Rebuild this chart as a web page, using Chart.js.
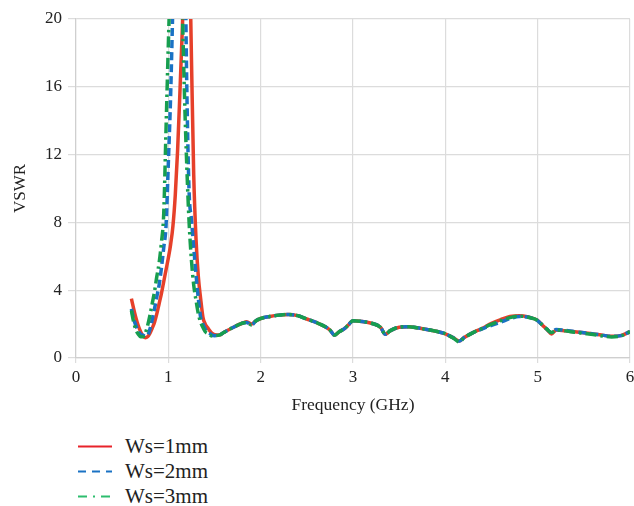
<!DOCTYPE html>
<html>
<head>
<meta charset="utf-8">
<script src="https://cdn.jsdelivr.net/npm/chart.js@4/dist/chart.umd.min.js"></script>
<style>
  html, body { margin: 0; padding: 0; background: #fff; }
  #wrap { position: relative; width: 634px; height: 506px; overflow: hidden; }
  #c { position: absolute; left: 0; top: 0; }
  #legend { position: absolute; left: 76px; top: 434px; font-family: "Liberation Serif", "Times New Roman", serif; font-size: 21px; color: #222; }
  .row { height: 25px; display: flex; align-items: center; }
  .row svg { margin-right: 13px; }
</style>
</head>
<body>
<div id="wrap">
  <canvas id="c" width="634" height="420"></canvas>
  <div id="legend"></div>
</div>
<script>
// ---- data ----
const frequency = [
  0.6, 0.625, 0.65, 0.675, 0.7, 0.725, 0.75, 0.775, 0.8, 0.825, 0.85, 0.875, 0.9, 0.925, 0.95, 0.975,
  1.0, 1.025, 1.05, 1.075, 1.1, 1.125, 1.15, 1.175, 1.2, 1.225, 1.25, 1.275, 1.3, 1.325, 1.35, 1.375,
  1.4, 1.425, 1.45, 1.475, 1.5,
  1.55, 1.6, 1.7, 1.8, 1.85, 1.9, 1.95, 2.0, 2.1, 2.2, 2.3, 2.4, 2.5, 2.6, 2.7, 2.75, 2.8, 2.85, 2.9, 2.95,
  3.0, 3.1, 3.2, 3.3, 3.35, 3.4, 3.5, 3.6, 3.7, 3.8, 3.9, 4.0, 4.1, 4.15, 4.2, 4.3, 4.4, 4.5, 4.6, 4.7,
  4.8, 4.9, 5.0, 5.05, 5.1, 5.15, 5.2, 5.3, 5.4, 5.5, 5.6, 5.7, 5.8, 5.9, 6.0
];
const vswrWs1 = [
  3.5, 2.9, 2.35, 1.9, 1.55, 1.3, 1.2, 1.25, 1.45, 1.75, 2.1, 2.6, 3.2, 3.8, 4.5, 5.2,
  5.9, 6.7, 7.8, 9.6, 12.2, 15.6, 19.2, 23, 27, 25, 17.8, 10.8, 7.0, 4.8, 3.5, 2.4,
  2.0, 1.8, 1.6, 1.45, 1.38,
  1.35, 1.5, 1.8, 2.05, 2.14, 2.0, 2.2, 2.33, 2.45, 2.53, 2.57, 2.5, 2.3, 2.1, 1.85, 1.65, 1.35, 1.55, 1.7, 1.95,
  2.2, 2.15, 2.05, 1.8, 1.4, 1.6, 1.82, 1.85, 1.78, 1.68, 1.58, 1.43, 1.15, 1.0, 1.2, 1.5, 1.75, 2.05, 2.27, 2.45,
  2.5, 2.42, 2.22, 1.95, 1.68, 1.42, 1.65, 1.6, 1.55, 1.49, 1.42, 1.35, 1.28, 1.32, 1.55
];
const vswrWs2 = [
  2.9, 2.3, 1.9, 1.6, 1.4, 1.35, 1.3, 1.32, 1.7, 2.25, 2.9, 3.6, 4.3, 5.3, 6.5, 7.8,
  11.5, 15.5, 21, 26, 30, 31, 30, 26, 16, 9.8, 8.2, 6.5, 4.9, 3.5, 2.4, 2.0,
  1.7, 1.55, 1.45, 1.35, 1.32,
  1.35, 1.5, 1.8, 2.05, 2.1, 1.95, 2.2, 2.33, 2.45, 2.53, 2.57, 2.5, 2.3, 2.1, 1.85, 1.65, 1.35, 1.55, 1.7, 1.95,
  2.2, 2.15, 2.05, 1.8, 1.4, 1.6, 1.82, 1.85, 1.78, 1.68, 1.58, 1.43, 1.15, 1.0, 1.2, 1.5, 1.72, 1.93, 2.12, 2.32,
  2.45, 2.4, 2.2, 1.95, 1.7, 1.5, 1.68, 1.63, 1.55, 1.49, 1.42, 1.35, 1.28, 1.32, 1.55
];
const vswrWs3 = [
  2.8, 2.1, 1.65, 1.4, 1.25, 1.25, 1.45, 1.9, 2.5, 3.2, 3.9, 4.8, 5.6, 6.8, 8.5, 13.5,
  18.5, 23, 28, 31, 31, 27, 21, 15.5, 11.3, 8.0, 5.8, 4.3, 3.4, 2.6, 2.1, 1.8,
  1.55, 1.45, 1.35, 1.3, 1.32,
  1.35, 1.5, 1.8, 2.05, 2.1, 1.95, 2.2, 2.33, 2.45, 2.53, 2.57, 2.5, 2.3, 2.1, 1.85, 1.65, 1.35, 1.55, 1.7, 1.95,
  2.2, 2.15, 2.05, 1.8, 1.4, 1.6, 1.82, 1.85, 1.78, 1.68, 1.58, 1.43, 1.12, 0.95, 1.18, 1.5, 1.75, 2.0, 2.2, 2.38,
  2.47, 2.4, 2.22, 1.95, 1.7, 1.5, 1.65, 1.6, 1.52, 1.45, 1.38, 1.3, 1.24, 1.3, 1.55
];
const seriesLabels = ["Ws=1mm", "Ws=2mm", "Ws=3mm"];
const xTicks = [0, 1, 2, 3, 4, 5, 6];
const yTicks = [0, 4, 8, 12, 16, 20];

// ---- styles ----
const colors = ["#e6402a", "#1a72c4", "#179e4f"];
const legendColors = ["#e8232a", "#1a72c4", "#2dbd6e"];
const dashes = [[], [8, 4], [11, 4, 2.5, 4]];
const legendDashes = ["", "8 6", "9 6 2 6"];
const orders = [2, 1, 0];
const values = [vswrWs1, vswrWs2, vswrWs3];

const serif = "'Liberation Serif', 'Times New Roman', serif";
const datasets = values.map((vals, i) => ({
  label: seriesLabels[i],
  data: frequency.map((f, k) => ({ x: f, y: vals[k] })),
  borderColor: colors[i],
  backgroundColor: colors[i],
  borderWidth: 3.5,
  borderDash: dashes[i],
  pointRadius: 0,
  fill: false,
  cubicInterpolationMode: 'monotone',
  clip: 0,
  order: orders[i]
}));

new Chart(document.getElementById('c'), {
  type: 'line',
  data: { datasets },
  options: {
    responsive: false,
    animation: false,
    devicePixelRatio: 1,
    layout: { padding: { top: 19, right: 0, bottom: 0, left: 0 } },
    plugins: { legend: { display: false }, tooltip: { enabled: false } },
    scales: {
      x: {
        type: 'linear',
        min: 0, max: 6,
        afterBuildTicks: s => { s.ticks = xTicks.map(v => ({ value: v })); },
        afterFit: s => { s.height = 62; s.paddingRight = 4; s.paddingLeft = 0; },
        ticks: { font: { family: serif, size: 17 }, color: '#222', padding: 4 },
        grid: { color: '#dcdcdc', lineWidth: 1.2, tickLength: 5 },
        border: { color: '#cfcfcf', width: 1.2 },
        title: { display: true, text: 'Frequency (GHz)', font: { family: serif, size: 17.5 }, color: '#222', padding: { top: 0, bottom: 4 } }
      },
      y: {
        min: 0, max: 20,
        afterBuildTicks: s => { s.ticks = yTicks.map(v => ({ value: v })); },
        afterFit: s => { s.width = 76; },
        ticks: { font: { family: serif, size: 17 }, color: '#222', padding: 6 },
        grid: { color: '#dcdcdc', lineWidth: 1.2, tickLength: 8 },
        border: { color: '#cfcfcf', width: 1.2 },
        title: { display: true, text: 'VSWR', font: { family: serif, size: 17 }, color: '#222', padding: { top: 10, bottom: 0 } }
      }
    }
  }
});

// ---- legend (vertical list under the chart) ----
const legend = document.getElementById('legend');
seriesLabels.forEach((lab, i) => {
  const row = document.createElement('div');
  row.className = 'row';
  const svgNS = 'http://www.w3.org/2000/svg';
  const svg = document.createElementNS(svgNS, 'svg');
  svg.setAttribute('width', '36'); svg.setAttribute('height', '25');
  const ln = document.createElementNS(svgNS, 'line');
  ln.setAttribute('x1', '2'); ln.setAttribute('x2', '36');
  ln.setAttribute('y1', '12.5'); ln.setAttribute('y2', '12.5');
  ln.setAttribute('stroke', legendColors[i]);
  ln.setAttribute('stroke-width', '2.2');
  if (legendDashes[i]) ln.setAttribute('stroke-dasharray', legendDashes[i]);
  svg.appendChild(ln);
  const span = document.createElement('span');
  span.textContent = lab;
  row.appendChild(svg); row.appendChild(span);
  legend.appendChild(row);
});
</script>
</body>
</html>
